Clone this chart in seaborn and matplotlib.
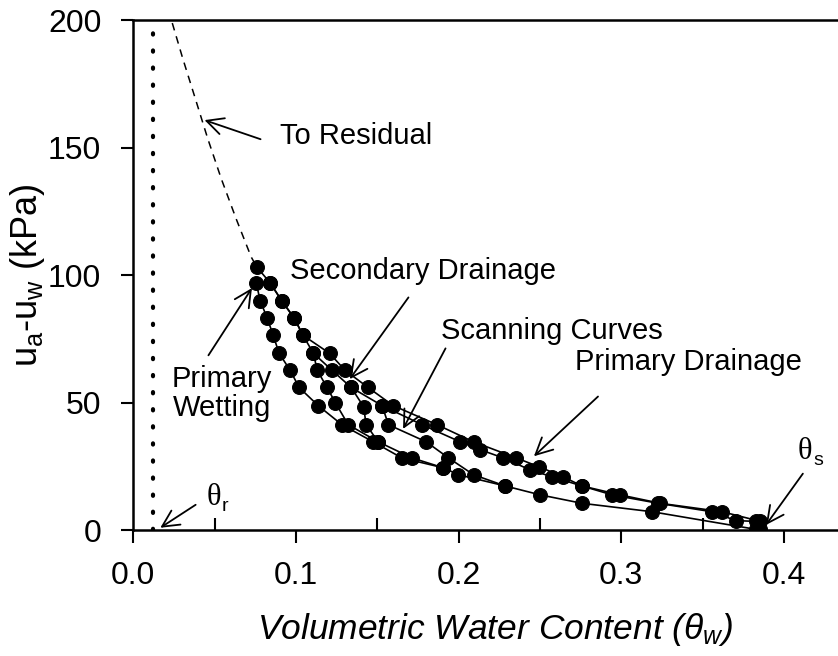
import matplotlib
matplotlib.use("Agg")
import matplotlib.pyplot as plt
import seaborn as sns

sns.set_theme(style="ticks")
plt.rcParams['font.family'] = ['Liberation Sans', 'DejaVu Sans']
plt.rcParams['mathtext.fontset'] = 'custom'
plt.rcParams['mathtext.rm'] = 'Liberation Sans'
plt.rcParams['mathtext.it'] = 'Liberation Sans:italic'
for k in ['text.color', 'axes.labelcolor', 'xtick.color', 'ytick.color', 'axes.edgecolor']:
    plt.rcParams[k] = 'black'

# ---- data (volumetric water content, suction in kPa) ----
pd_theta = [0.3856, 0.3619, 0.3239, 0.2993, 0.2758, 0.2643, 0.2495, 0.2354, 0.2092, 0.1868,
            0.1598, 0.1444, 0.1303, 0.1207, 0.1043, 0.0990, 0.0914, 0.0842]
pd_suct = [3.4, 7.2, 10.5, 13.8, 17.3, 20.9, 24.8, 28.3, 34.6, 41.3,
           48.8, 55.9, 62.6, 69.3, 76.4, 83.1, 89.8, 96.9]

sd_theta = [0.3826, 0.3706, 0.3557, 0.3227, 0.2944, 0.2758, 0.2575, 0.2440, 0.2274, 0.2133,
            0.2010, 0.1776, 0.1530, 0.1340, 0.1223, 0.1108, 0.1043, 0.0990, 0.0914, 0.0842,
            0.0760]
sd_suct = [3.4, 3.7, 7.2, 10.5, 13.8, 17.3, 20.9, 23.6, 28.3, 31.5,
           34.6, 41.3, 48.8, 55.9, 62.6, 69.3, 76.4, 83.1, 89.8, 96.9,
           103.1]

pw_theta = [0.0756, 0.0781, 0.0824, 0.0860, 0.0897, 0.0965, 0.1020, 0.1137, 0.1283, 0.1475,
            0.1651, 0.1907, 0.1999, 0.2286, 0.2502, 0.2758, 0.3188, 0.3826, 0.3856]
pw_suct = [96.9, 89.8, 83.1, 76.4, 69.3, 62.6, 55.9, 48.8, 41.3, 34.6,
           28.3, 24.4, 21.7, 17.3, 13.8, 10.5, 7.2, 0.3, 0.3]

sc1_theta = [0.1108, 0.1131, 0.1192, 0.1242, 0.1322, 0.1506, 0.1713, 0.1907]
sc1_suct = [69.3, 62.6, 55.9, 50.0, 41.3, 34.6, 28.3, 24.4]

sc2_theta = [0.1530, 0.1569, 0.1801, 0.1938, 0.2092, 0.2286]
sc2_suct = [48.8, 41.3, 34.6, 28.3, 21.7, 17.3]

sc3_theta = [0.1340, 0.1416, 0.1432, 0.1506]
sc3_suct = [55.9, 48.4, 41.3, 34.6]

res_theta = [0.0240, 0.0304, 0.0381, 0.0458, 0.0541, 0.0633, 0.0725, 0.0760]
res_suct = [198.8, 185.0, 169.3, 153.5, 137.8, 122.0, 107.1, 103.1]

theta_r = 0.0123

fig = plt.figure(figsize=(8.38, 6.56), dpi=100)
ax = fig.add_axes([0.159, 0.192, 0.841, 0.7775])

sns.lineplot(x=res_theta, y=res_suct, ax=ax, color='black', lw=1.1, sort=False,
             estimator=None, linestyle=(0, (5, 4)))
ax.axvline(theta_r, color='black', lw=3, linestyle=(0, (0.3, 3.8)),
           dash_capstyle='round', ymax=0.99)

for th, s in [(pd_theta, pd_suct), (sd_theta, sd_suct), (pw_theta, pw_suct),
              (sc1_theta, sc1_suct), (sc2_theta, sc2_suct), (sc3_theta, sc3_suct)]:
    sns.lineplot(x=th, y=s, ax=ax, color='black', lw=1.2, sort=False,
                 marker='o', markersize=10, markeredgecolor='black',
                 markerfacecolor='black', estimator=None)

ax.set_xlim(0, 0.4333)
ax.set_ylim(0, 200)
ax.set_xticks([0.0, 0.1, 0.2, 0.3, 0.4])
ax.set_xticklabels(['0.0', '0.1', '0.2', '0.3', '0.4'])
ax.set_xticks([0.05, 0.15, 0.25, 0.35], minor=True)
ax.set_yticks([0, 50, 100, 150, 200])
ax.tick_params(axis='both', which='major', direction='out', length=9, width=1.5,
               labelsize=23, color='black', labelcolor='black')
ax.tick_params(axis='y', which='major', pad=14)
ax.tick_params(axis='x', which='major', pad=13)
ax.tick_params(axis='x', which='minor', direction='in', length=9, width=1.5, color='black')
for side in ['left', 'bottom', 'top']:
    ax.spines[side].set_linewidth(1.8)
    ax.spines[side].set_color('black')
ax.spines['right'].set_visible(False)

ax.set_xlabel(r'Volumetric Water Content ($\theta_w$)', fontsize=25.5, style='italic',
              color='black')
ax.xaxis.set_label_coords(0.513, -0.158)
ax.set_ylabel(r'u$_\mathregular{a}$-u$_\mathregular{w}$ (kPa)', fontsize=26, color='black')
ax.yaxis.set_label_coords(-0.122, 0.5)

ap = dict(arrowstyle='->', color='black', lw=1.3, mutation_scale=30)
fs = 21
ax.annotate('', xy=(0.0422, 161.1), xytext=(0.0799, 152.9), arrowprops=ap)
ax.text(0.0905, 154.7, 'To Residual', fontsize=fs, ha='left', va='center')
ax.annotate('', xy=(0.1321, 58.3), xytext=(0.1702, 92.1), arrowprops=ap)
ax.text(0.0965, 101.6, 'Secondary Drainage', fontsize=fs, ha='left', va='center')
ax.annotate('', xy=(0.1651, 38.7), xytext=(0.1928, 72.2), arrowprops=ap)
ax.text(0.1894, 78.1, 'Scanning Curves', fontsize=fs, ha='left', va='center')
ax.annotate('', xy=(0.2451, 28.2), xytext=(0.2870, 53.1), arrowprops=ap)
ax.text(0.2717, 65.7, 'Primary Drainage', fontsize=fs, ha='left', va='center')
ax.annotate('', xy=(0.0739, 95.8), xytext=(0.0453, 67.6), arrowprops=ap)
ax.text(0.0547, 53.5, 'Primary\nWetting', fontsize=fs, ha='center', va='center',
        linespacing=1.05)

ax.annotate('', xy=(0.0152, 0.3), xytext=(0.0398, 10.5), arrowprops=ap)
ax.text(0.0449, 12.6, 'θ', fontsize=22, ha='left', va='center', family='Liberation Serif')
ax.text(0.0545, 9.2, 'r', fontsize=14, ha='left', va='center')
ax.annotate('', xy=(0.388, 1.1), xytext=(0.4127, 23.0), arrowprops=ap)
ax.text(0.4087, 30.7, 'θ', fontsize=22, ha='left', va='center', family='Liberation Serif')
ax.text(0.4183, 27.3, 's', fontsize=14, ha='left', va='center')

fig.savefig('out.png', dpi=100)
